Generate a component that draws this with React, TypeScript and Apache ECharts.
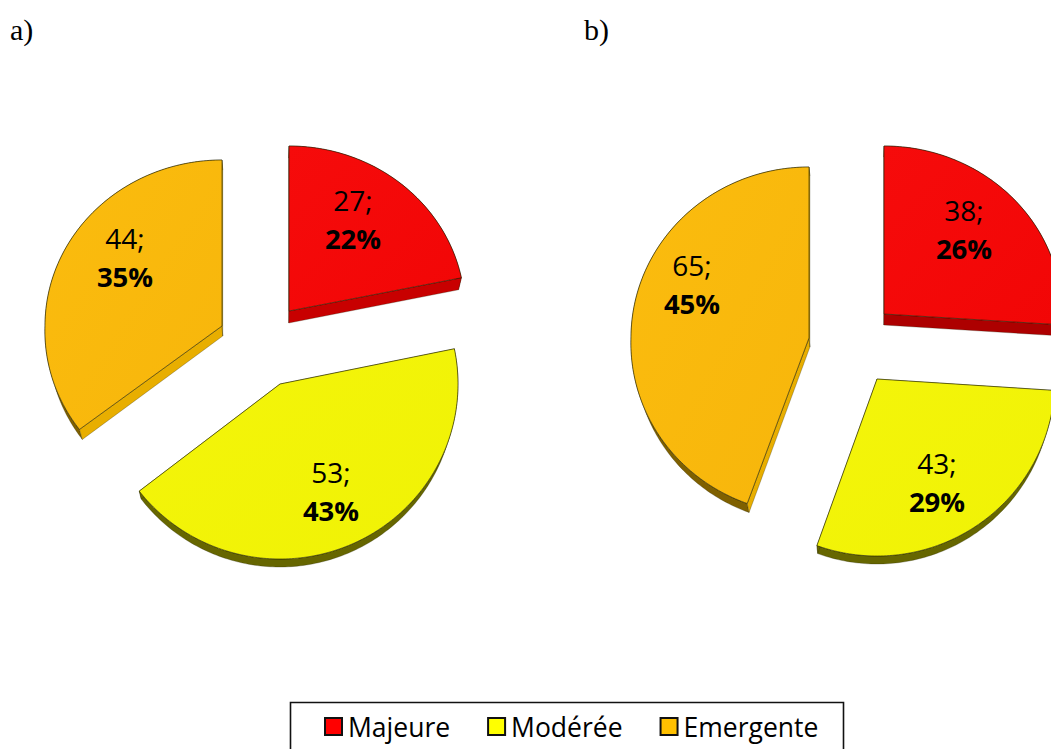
import React, { useEffect, useRef } from "react";
import * as echarts from "echarts";

const categories = ["Majeure", "Modérée", "Emergente"];
const countsA = [27, 53, 44];
const countsB = [38, 43, 65];
const percentsA = ["22%", "43%", "35%"];
const percentsB = ["26%", "29%", "45%"];

const values = [countsA, countsB];
const percents = [percentsA, percentsB];
const legendColors = ["#FF0000", "#FFFF00", "#FFC000"];

const topFill = [
  ["#F60B0B", "#F20606"],
  ["#F4F50A", "#F0F205"],
  ["#FBBC0E", "#F7B60B"],
];
const rimFill = ["#9E0000", "#666600", "#7F6000"];
const cutFill = [
  ["#C80000", "#AD0000"],
  ["#666600", "#666600"],
  ["#E8AE00", "#E8AE00"],
];

// Panel geometry: one entry per panel, one per slice inside.
const geometry = [
  [
    { cx: 289, cy: 311, rx: 176, ry: 165, low: 0, depth: 12, lx: 353, ly: 200 },
    { cx: 280, cy: 384, rx: 178, ry: 175, low: 0, depth: 8, lx: 331, ly: 472 },
    { cx: 222, cy: 326, rx: 177, ry: 166, low: 0.03, depth: 10, lx: 125, ly: 238 },
  ],
  [
    { cx: 884, cy: 314, rx: 178, ry: 168, low: 0, depth: 11, lx: 964, ly: 210 },
    { cx: 877, cy: 379, rx: 178, ry: 177, low: 0, depth: 8, lx: 937, ly: 463 },
    { cx: 809, cy: 338, rx: 178, ry: 171, low: 0.03, depth: 9, lx: 692, ly: 265 },
  ],
];
const vanishX = [270, 870];
const PERSPECTIVE = 0.015;
const LABEL_FONT = '"Open Sans", sans-serif';

function renderSlice(params: any, api: any) {
  const panel = params.dataIndex;
  const cat = params.seriesIndex;
  const list = values[panel];
  const total = list.reduce((s, v) => s + v, 0);
  const before = list.slice(0, cat).reduce((s, v) => s + v, 0);
  const value = api.value(0);
  const start = Math.PI / 2 - (before / total) * Math.PI * 2;
  const end = start - (value / total) * Math.PI * 2;
  const g = geometry[panel][cat];

  const arc: number[][] = [];
  const steps = Math.max(8, Math.ceil(((start - end) * 180) / Math.PI));
  for (let i = 0; i <= steps; i++) {
    const t = start + ((end - start) * i) / steps;
    const s = Math.sin(t);
    const grow = 1 + g.low * Math.max(0, -s);
    arc.push([g.cx + g.rx * grow * Math.cos(t), g.cy - g.ry * grow * s]);
  }
  const apex = [g.cx, g.cy];
  const ex = (p: number[]) => [p[0] + PERSPECTIVE * (vanishX[panel] - p[0]), p[1] + g.depth];
  const edge = { stroke: "rgba(30,30,0,0.75)", lineWidth: 0.8 };

  const face = (a: number[], b: number[]) => ({
    type: "polygon",
    shape: { points: [a, b, ex(b), ex(a)] },
    style: { fill: cutFill[cat][panel], stroke: "rgba(30,30,0,0.45)", lineWidth: 0.6 },
  });

  return {
    type: "group",
    children: [
      {
        type: "polygon",
        shape: { points: [...arc, ...arc.slice().reverse().map(ex)] },
        style: { fill: rimFill[cat], stroke: "rgba(30,30,0,0.45)", lineWidth: 0.6 },
      },
      face(apex, arc[0]),
      face(apex, arc[arc.length - 1]),
      {
        type: "polygon",
        shape: { points: [apex, ...arc] },
        style: {
          fill: new echarts.graphic.LinearGradient(0, 0, 1, 1, [
            { offset: 0, color: topFill[cat][0] },
            { offset: 1, color: topFill[cat][1] },
          ]),
          ...edge,
        },
      },
      {
        type: "text",
        x: g.lx,
        y: g.ly,
        style: {
          text: `${value};`,
          fill: "#000",
          font: `400 28px ${LABEL_FONT}`,
          align: "center",
          verticalAlign: "middle",
        },
      },
      {
        type: "text",
        x: g.lx,
        y: g.ly + 38,
        style: {
          text: percents[panel][cat],
          fill: "#000",
          font: `700 27.5px ${LABEL_FONT}`,
          align: "center",
          verticalAlign: "middle",
        },
      },
    ],
  };
}

export default function App() {
  const ref = useRef<HTMLDivElement>(null);
  useEffect(() => {
    document.body.style.margin = "0";
    document.body.style.overflow = "hidden";
    const chart = echarts.init(ref.current!, undefined, { renderer: "svg" });
    chart.setOption({
      animation: false,
      backgroundColor: "#fff",
      legend: {
        data: categories,
        left: 324,
        top: 713,
        padding: 0,
        icon: "rect",
        itemWidth: 17,
        itemHeight: 17,
        itemGap: 37,
        textStyle: {
          fontFamily: LABEL_FONT,
          fontSize: 26.5,
          color: "#000",
          padding: [0, 0, 11, 1],
        },
        selectedMode: false,
      },
      graphic: [
        {
          type: "rect",
          shape: { x: 290.5, y: 702.5, width: 553, height: 60 },
          style: { fill: "none", stroke: "#111", lineWidth: 1.6 },
          silent: true,
        },
        {
          type: "text",
          x: 10,
          y: 14,
          style: { text: "a)", font: '30px "Liberation Serif", serif', fill: "#000" },
        },
        {
          type: "text",
          x: 584,
          y: 14,
          style: { text: "b)", font: '30px "Liberation Serif", serif', fill: "#000" },
        },
      ],
      series: categories.map((name, i) => ({
        type: "custom",
        name,
        coordinateSystem: "none",
        silent: true,
        clip: false,
        renderItem: renderSlice,
        itemStyle: { color: legendColors[i], borderColor: "#111", borderWidth: 1.5 },
        data: [[countsA[i]], [countsB[i]]],
      })),
    });
    return () => chart.dispose();
  }, []);
  return <div ref={ref} style={{ position: "absolute", left: 0, top: 0, width: 1051, height: 749 }} />;
}
